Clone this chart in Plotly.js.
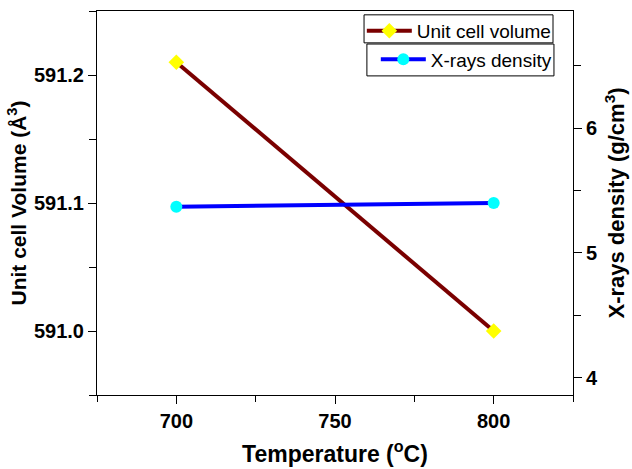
<!DOCTYPE html>
<html><head><meta charset="utf-8">
<script src="https://cdn.plot.ly/plotly-3.0.1.min.js"></script>
<style>html,body{margin:0;padding:0;background:#fff}#chart{width:632px;height:469px}</style>
</head><body><div id="chart"></div>
<script>
const temperature = [700, 800];
const unitCellVolume = [591.21, 591.0];
const xrayDensity = [5.37, 5.40];

const tickFont = {family: 'Liberation Sans, Arial, sans-serif', size: 20, color: '#000', weight: 'bold'};
const titleFont = {family: 'Liberation Sans, Arial, sans-serif', size: 21, color: '#000', weight: 'bold'};
const legendFont = {family: 'Liberation Sans, Arial, sans-serif', size: 19, color: '#000'};

const traces = [
  {x: temperature, y: unitCellVolume, name: 'Unit cell volume', type: 'scatter', mode: 'lines+markers',
   line: {color: '#7a0000', width: 4}, marker: {symbol: 'diamond', color: '#ffff00', size: 12},
   xaxis: 'x', yaxis: 'y', legend: 'legend'},
  {x: temperature, y: xrayDensity, name: 'X-rays density', type: 'scatter', mode: 'lines+markers',
   line: {color: '#0000ff', width: 4}, marker: {symbol: 'circle', color: '#00ffff', size: 12},
   xaxis: 'x', yaxis: 'y2', legend: 'legend2'}
];

const boxStyle = {type: 'rect', xref: 'paper', yref: 'paper', layer: 'above',
  line: {color: '#000', width: 1}, fillcolor: 'rgba(255,255,255,0)'};

const layout = {
  width: 632, height: 469,
  margin: {l: 97, r: 59, t: 11, b: 74},
  paper_bgcolor: '#fff', plot_bgcolor: '#fff',
  showlegend: true,
  xaxis: {range: [675, 825], tickvals: [700, 750, 800], showgrid: false, zeroline: false,
    showline: true, linecolor: '#000', linewidth: 1, mirror: true,
    ticks: 'outside', ticklen: 8, tickwidth: 1, tickcolor: '#000', tickfont: tickFont,
    minor: {dtick: 25, tick0: 675, ticks: 'outside', ticklen: 6, tickcolor: '#000', showgrid: false},
    title: {text: 'Temperature (<sup>o</sup>C)', font: {...titleFont, size: 23}, standoff: 14}},
  yaxis: {range: [590.95, 591.25], tickvals: [591.0, 591.1, 591.2], ticktext: ['591.0', '591.1', '591.2'],
    showgrid: false, zeroline: false,
    showline: true, linecolor: '#000', linewidth: 1,
    ticks: 'outside', ticklen: 8, tickwidth: 1, tickcolor: '#000', tickfont: tickFont,
    minor: {dtick: 0.05, tick0: 590.95, ticks: 'outside', ticklen: 7, tickcolor: '#000', showgrid: false},
    title: {text: 'Unit cell Volume (Å<sup>3</sup>)', font: titleFont, standoff: 1}},
  yaxis2: {range: [3.86, 6.94], overlaying: 'y', side: 'right', tickvals: [4, 5, 6],
    showgrid: false, zeroline: false,
    showline: true, linecolor: '#000', linewidth: 1,
    ticks: 'outside', ticklen: 8, tickwidth: 1, tickcolor: '#000', tickfont: tickFont,
    minor: {dtick: 0.5, tick0: 3.5, ticks: 'outside', ticklen: 7, tickcolor: '#000', showgrid: false},
    title: {text: 'X-rays density (g/cm<sup>3</sup>)', font: {...titleFont, size: 22}, standoff: 11}},
  legend: {x: 0.966, y: 0.948, xanchor: 'right', yanchor: 'middle', bgcolor: 'rgba(0,0,0,0)', itemwidth: 45,
    borderwidth: 0, font: legendFont, tracegroupgap: 0},
  legend2: {x: 0.966, y: 0.874, xanchor: 'right', yanchor: 'middle', bgcolor: 'rgba(0,0,0,0)', itemwidth: 45,
    borderwidth: 0, font: legendFont, tracegroupgap: 0},
  shapes: [
    {...boxStyle, x0: 0.561, x1: 0.958, y0: 0.917, y1: 0.990},
    {...boxStyle, x0: 0.567, x1: 0.960, y0: 0.831, y1: 0.914}
  ]
};

Plotly.newPlot('chart', traces, layout, {displayModeBar: false, staticPlot: true});
</script></body></html>
